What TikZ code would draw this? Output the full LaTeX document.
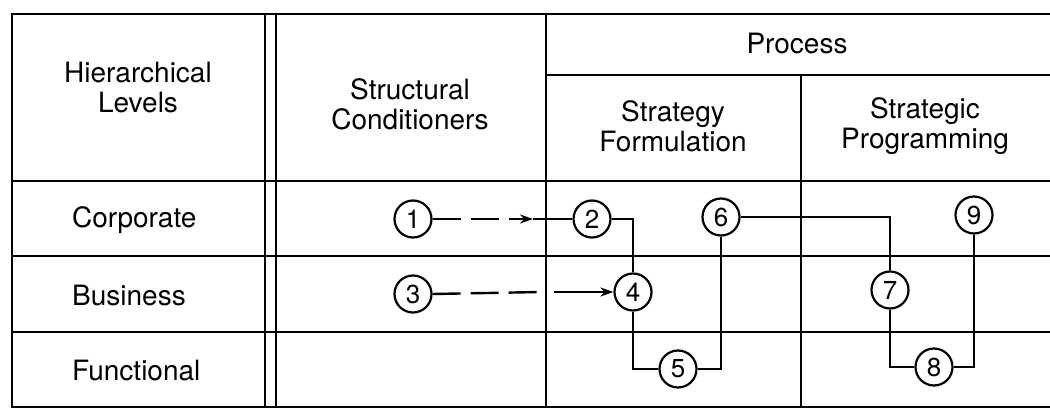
\documentclass[tikz,border=0pt]{standalone}
\usepackage{fontspec}
\setmainfont{TeX Gyre Heros}
\usetikzlibrary{arrows.meta}
\begin{document}
\begin{tikzpicture}[x=1pt,y=-1pt,
  grid/.style={line width=2.6pt, line cap=rect},
  conn/.style={line width=2.4pt},
  dashconn/.style={line width=2.4pt, dash pattern=on 28pt off 10pt},
  tip/.style={-{Stealth[length=13pt,width=9pt]}},
  num/.style={circle, draw, line width=2.2pt, minimum size=37pt, inner sep=0pt, fill=white, font=\fontsize{26}{26}\selectfont},
  lbl/.style={align=center, inner sep=0pt, font=\fontsize{28}{30}\selectfont},
]
\useasboundingbox (0,0) rectangle (1050,414);
% table lines
\draw[grid] (12,14) -- (1050,14);
\draw[grid] (546,75) -- (1050,75);
\draw[grid] (12,181) -- (1050,181);
\draw[grid] (12,256) -- (1050,256);
\draw[grid] (12,332) -- (1050,332);
\draw[grid] (12,407) -- (1050,407);
\draw[grid] (12,14) -- (12,407);
\draw[grid] (265,14) -- (265,407);
\draw[grid] (276,14) -- (276,407);
\draw[grid] (546,14) -- (546,407);
\draw[grid] (801,75) -- (801,407);
% headers
\node[lbl] (hl) at (138,88) {Hierarchical\\Levels};
\node[lbl] (sc) at (410,104) {Structural\\Conditioners};
\node[lbl] (pr) at (797,44) {Process};
\node[lbl] (sf) at (673,126) {Strategy\\Formulation};
\node[lbl] (sp) at (925,126) {Strategic\\Programming};
% row labels
\node[lbl, anchor=west] (corp) at (72,220) {Corporate};
\node[lbl, anchor=west] (bus) at (72,296) {Business};
\node[lbl, anchor=west] (fun) at (72,371) {Functional};
% numbered circles
\node[num] (c1) at (413,219) {1};
\node[num] (c2) at (592,219) {2};
\node[num] (c6) at (721,217) {6};
\node[num] (c9) at (974,215) {9};
\node[num] (c3) at (413,294) {3};
\node[num] (c4) at (633,292) {4};
\node[num] (c7) at (890,290) {7};
\node[num] (c5) at (678,369) {5};
\node[num] (c8) at (934,367) {8};
% connector helper points
\coordinate (a1) at (533,219);
\coordinate (b1) at (541,292);
\coordinate (b2) at (554,292);
% connectors
\draw[conn] (a1) -- (c2.west);
\draw[dashconn, tip] (c1.east) -- (a1);
\draw[dashconn] (c3.east) -- (b1);
\draw[conn, tip] (b2) -- (c4.west);
\draw[conn] (c2.east) -| (c4.north);
\draw[conn] (c4.south) |- (c5.west);
\draw[conn] (c5.east) -| (c6.south);
\draw[conn] (c6.east) -| (c7.north);
\draw[conn] (c7.south) |- (c8.west);
\draw[conn] (c8.east) -| (c9.south);
\end{tikzpicture}
\end{document}
